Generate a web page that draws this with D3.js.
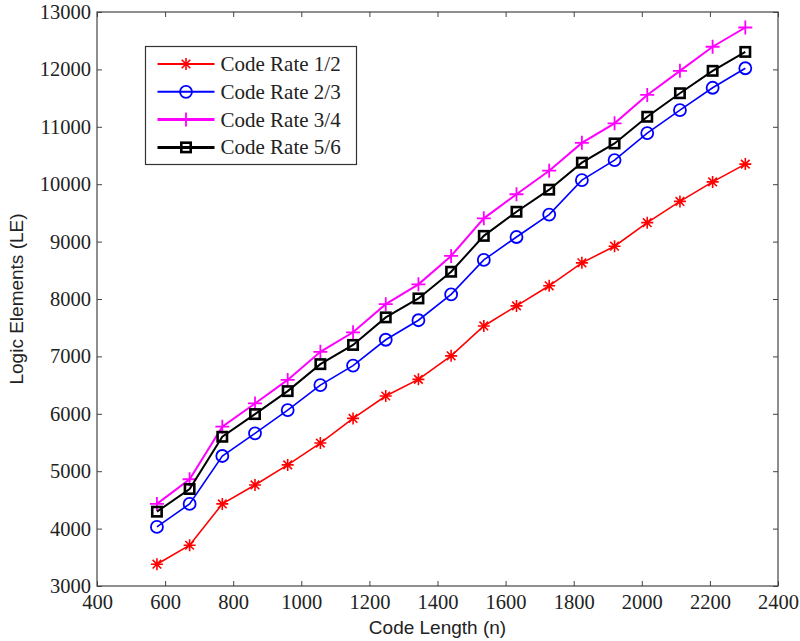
<!DOCTYPE html>
<html>
<head>
<meta charset="utf-8">
<script src="https://cdn.jsdelivr.net/npm/d3@7"></script>
<style>
  body { margin: 0; background: #fff; }
</style>
</head>
<body>
<div id="chart"></div>
<script>
// data
const codeLength = [576, 672, 768, 864, 960, 1056, 1152, 1248, 1344, 1440, 1536, 1632, 1728, 1824, 1920, 2016, 2112, 2208, 2304]
const rate12 = [3380, 3710, 4430, 4760, 5110, 5490, 5920, 6310, 6600, 7010, 7530, 7880, 8230, 8630, 8920, 9330, 9700, 10040, 10350]
const rate23 = [4030, 4430, 5265, 5660, 6065, 6500, 6840, 7290, 7630, 8080, 8680, 9080, 9470, 10070, 10420, 10890, 11290, 11680, 12020]
const rate34 = [4430, 4860, 5775, 6180, 6590, 7080, 7420, 7910, 8255, 8750, 9405, 9825, 10235, 10720, 11060, 11555, 11975, 12395, 12730]
const rate56 = [4295, 4690, 5600, 5995, 6395, 6865, 7200, 7680, 8010, 8475, 9100, 9520, 9905, 10375, 10710, 11175, 11585, 11975, 12305]
const seriesNames = ['Code Rate 1/2', 'Code Rate 2/3', 'Code Rate 3/4', 'Code Rate 5/6']
const xTicks = [400, 600, 800, 1000, 1200, 1400, 1600, 1800, 2000, 2200, 2400]
const yTicks = [3000, 4000, 5000, 6000, 7000, 8000, 9000, 10000, 11000, 12000, 13000]

const series = [
  { name: seriesNames[0], values: rate12, color: '#ff0000', marker: 'star', lw: 1.6, legendLw: 2 },
  { name: seriesNames[1], values: rate23, color: '#0000ff', marker: 'circle', lw: 1.6, legendLw: 2 },
  { name: seriesNames[2], values: rate34, color: '#ff00ff', marker: 'plus', lw: 2, legendLw: 3 },
  { name: seriesNames[3], values: rate56, color: '#000000', marker: 'square', lw: 2, legendLw: 3 },
]

// size
const margin = { left: 97, right: 22, top: 12, bottom: 55 }
const width = 800 - margin.left - margin.right
const height = 641 - margin.top - margin.bottom

// scale
const x = d3.scaleLinear().domain([400, 2400]).range([0, width])
const y = d3.scaleLinear().domain([3000, 13000]).range([height, 0])

const svg = d3
  .select('#chart')
  .append('svg')
  .attr('width', 800)
  .attr('height', 641)

const plot = svg
  .append('g')
  .attr('transform', `translate(${margin.left}, ${margin.top})`)

const serif = '"Liberation Serif", "Times New Roman", serif'
const sans = '"Liberation Sans", Arial, sans-serif'
const axisColor = '#444'

function styleAxis(g) {
  g.select('.domain').remove()
  g.selectAll('.tick line').attr('stroke', axisColor)
  g.selectAll('.tick text')
    .attr('fill', '#222')
    .attr('font-family', serif)
    .attr('font-size', '20.5px')
}

// axes (ticks pointing inward)
plot
  .append('g')
  .attr('transform', `translate(0, ${height})`)
  .call(d3.axisBottom(x).tickValues(xTicks).tickSizeInner(-5).tickSizeOuter(0).tickPadding(8).tickFormat(d3.format('d')))
  .call(styleAxis)

plot
  .append('g')
  .call(d3.axisLeft(y).tickValues(yTicks).tickSizeInner(-5).tickSizeOuter(0).tickPadding(6).tickFormat(d3.format('d')))
  .call(styleAxis)

plot
  .append('g')
  .call(d3.axisTop(x).tickValues(xTicks).tickSizeInner(-5).tickSizeOuter(0).tickFormat(''))
  .call(styleAxis)

plot
  .append('g')
  .attr('transform', `translate(${width}, 0)`)
  .call(d3.axisRight(y).tickValues(yTicks).tickSizeInner(-5).tickSizeOuter(0).tickFormat(''))
  .call(styleAxis)

// box
plot
  .append('rect')
  .attr('width', width)
  .attr('height', height)
  .attr('fill', 'none')
  .attr('stroke', axisColor)
  .attr('stroke-width', 1.2)

// axis labels
plot
  .append('text')
  .attr('text-anchor', 'middle')
  .attr('font-family', sans)
  .attr('font-size', '19px')
  .attr('fill', '#222')
  .attr('transform', `translate(${width / 2}, ${height + 48})`)
  .text('Code Length (n)')

plot
  .append('text')
  .attr('text-anchor', 'middle')
  .attr('font-family', sans)
  .attr('font-size', '19px')
  .attr('fill', '#222')
  .attr('transform', `translate(-74, ${height / 2}) rotate(-90)`)
  .text('Logic Elements (LE)')

// markers
function drawMarker(g, type, color) {
  const s = g.append('g').attr('fill', 'none').attr('stroke', color)
  if (type === 'star') {
    s.attr('stroke-width', 1.6)
    s.append('path').attr('d', 'M-6,0H6M0,-6V6M-4.3,-4.3L4.3,4.3M-4.3,4.3L4.3,-4.3')
  } else if (type === 'circle') {
    s.attr('stroke-width', 1.8)
    s.append('circle').attr('r', 6)
  } else if (type === 'plus') {
    s.attr('stroke-width', 1.8)
    s.append('path').attr('d', 'M-7,0H7M0,-7V7')
  } else if (type === 'square') {
    s.attr('stroke-width', 2.6)
    s.append('rect').attr('x', -4.7).attr('y', -4.7).attr('width', 9.4).attr('height', 9.4)
  }
}

// lines
const line = d3
  .line()
  .x(d => x(d[0]))
  .y(d => y(d[1]))

series.forEach(s => {
  const pts = codeLength.map((c, i) => [c, s.values[i]])
  const g = plot.append('g')

  g.append('path')
    .datum(pts)
    .attr('d', line)
    .attr('fill', 'none')
    .attr('stroke', s.color)
    .attr('stroke-width', s.lw)

  pts.forEach(p => {
    const m = g.append('g').attr('transform', `translate(${x(p[0])}, ${y(p[1])})`)
    drawMarker(m, s.marker, s.color)
  })
})

// legend
const legend = svg.append('g').attr('transform', 'translate(145.5, 46.5)')

legend
  .append('rect')
  .attr('width', 211)
  .attr('height', 118)
  .attr('fill', '#fff')
  .attr('stroke', '#333')
  .attr('stroke-width', 1.2)

series.forEach((s, i) => {
  const row = legend.append('g').attr('transform', `translate(0, ${17.5 + 27.8 * i})`)

  row
    .append('line')
    .attr('x1', 12)
    .attr('x2', 69)
    .attr('stroke', s.color)
    .attr('stroke-width', s.legendLw)

  drawMarker(row.append('g').attr('transform', 'translate(40.5, 0)'), s.marker, s.color)

  row
    .append('text')
    .attr('x', 75)
    .attr('y', 7)
    .attr('font-family', serif)
    .attr('font-size', '21px')
    .attr('fill', '#222')
    .text(s.name)
})
</script>
</body>
</html>
